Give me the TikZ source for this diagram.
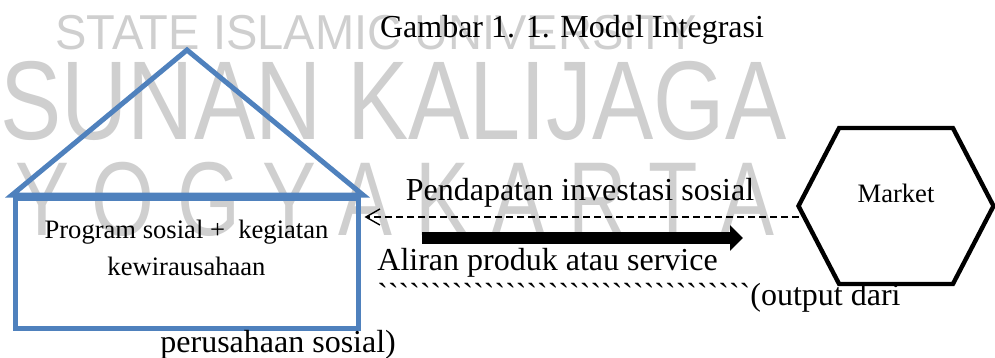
\documentclass[tikz,border=0pt]{standalone}
\usepackage{fontspec}
\setmainfont{Liberation Serif}
\newfontfamily\marksans{Liberation Sans}
\usetikzlibrary{arrows.meta,positioning,shapes.symbols,calc}
\definecolor{houseblue}{RGB}{79,129,189}
\definecolor{markgray}{RGB}{207,207,207}
\newcommand\wmfont[1]{\marksans\fontsize{#1}{#1}\selectfont}
\tikzset{
    roof/.style     = {draw=houseblue, line width=2.5pt, line join=miter},
    housebox/.style = {draw=houseblue, line width=2.5pt,
            minimum width=171.5pt, minimum height=65pt, inner sep=0pt},
    hexbox/.style   = {signal, signal to=west and east, signal pointer angle=125,
            draw=black, line width=2.2pt, minimum width=97.5pt, minimum height=78pt,
            inner sep=0pt, text depth=13pt, font=\fontsize{13.3}{16}\selectfont},
    bigtext/.style  = {font=\fontsize{16}{19}\selectfont, inner sep=0pt, anchor=base},
    boxtext/.style  = {font=\fontsize{13.3}{18.5}\selectfont, align=center, inner sep=0pt},
    backline/.style = {-{Straight Barb[length=7pt,width=8pt]}, dash pattern=on 3.5pt off 2pt,
            line width=0.7pt},
    flow/.style     = {-{Triangle[length=6.5pt,width=12.5pt]}, line width=6pt},
    watermark/.style = {text=markgray, inner sep=0pt, anchor=base west},
}

\begin{document}
\begin{tikzpicture}[x=0.5pt, y=-0.5pt]
    \useasboundingbox (0,0) rectangle (995,358);
    % watermark behind everything
    \node[watermark, font=\wmfont{24.5}] (wmtop) at (55,50)
        {\scalebox{0.96}[1]{STATE ISLAMIC UNIVERSITY}};
    \node[watermark, font=\wmfont{56}] (wmmid) at (0,140)
        {\scalebox{0.82}[1]{SUNAN KALIJAGA}};
    \node[watermark, font=\wmfont{52.5}] (wmlow) at (15,235)
        {\scalebox{0.77}[1]{Y O G Y A K A R T A}};

    % Title
    \node[bigtext] (title) at (572,38) {Gambar 1. 1. Model Integrasi};

    % House
    \coordinate (roofL) at (12,195);
    \coordinate (apex) at (187,50);
    \coordinate (roofR) at (363,195);
    \draw[roof] (roofL) -- (apex) -- (roofR) -- cycle;
    \node[housebox] (prog) at (186.5,263) {};
    \node[boxtext, below=12pt of prog.north] (progtext)
        {Program sosial +\ \ kegiatan\\ kewirausahaan};

    % Market
    \node[hexbox] (market) at (896,206) {Market};

    % Labels and arrows
    \node[bigtext] (income) at (580,200) {Pendapatan investasi sosial};
    \coordinate (dashstart) at ($(market.west)+(3,11)$);
    \coordinate (dashend) at ($(prog.east |- dashstart)+(4,0)$);
    \draw[backline] (dashstart) -- (dashend);

    \coordinate (flowA) at (422,238);
    \coordinate (flowB) at (743,238);
    \draw[flow] (flowA) -- (flowB);
    \node[bigtext, anchor=base west] (flowtext) at (377,270) {Aliran produk atau service};

    \node[bigtext, anchor=base west] (output) at (377,305)
        {\foreach \i in {1,...,35}{\textasciigrave}(output dari};
    \node[bigtext, anchor=base west] (output2) at (160,352) {perusahaan sosial)};
\end{tikzpicture}
\end{document}
